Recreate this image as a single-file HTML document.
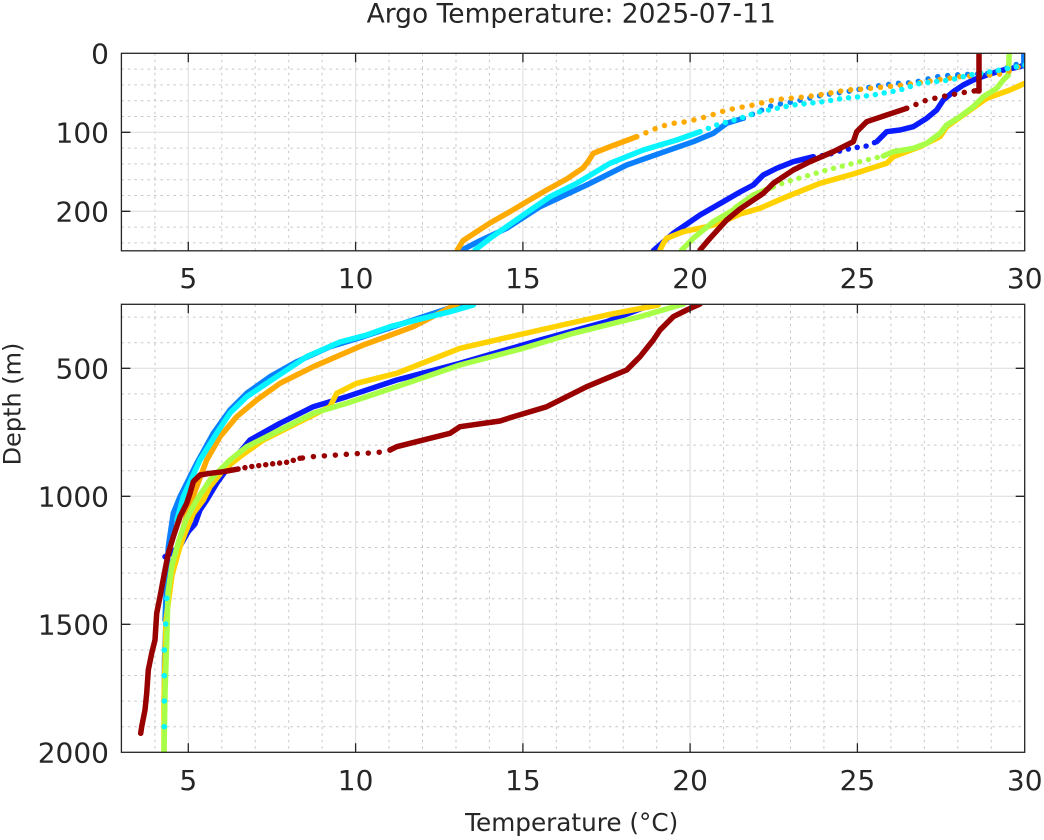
<!DOCTYPE html>
<html><head><meta charset="utf-8"><style>
html,body{margin:0;padding:0;background:#fff;}
svg{display:block;}
text{font-family:"DejaVu Sans","Liberation Sans",sans-serif;fill:#262626;}
</style></head><body>
<svg width="1044" height="840" viewBox="0 0 1044 840" xmlns="http://www.w3.org/2000/svg">
<defs>
<clipPath id="c1"><rect x="121.4" y="53.3" width="903.3" height="197.5"/></clipPath>
<clipPath id="c2"><rect x="121.4" y="304.3" width="903.3" height="448"/></clipPath>
</defs>
<rect x="0" y="0" width="1044" height="840" fill="#fff"/>

<!-- ===== TOP PANEL GRID ===== -->
<g stroke="#c6c6c6" stroke-width="1" stroke-dasharray="2.5 4" fill="none">
<path d="M154.9 53.3V250.8M221.8 53.3V250.8M255.2 53.3V250.8M288.7 53.3V250.8M322.1 53.3V250.8M389 53.3V250.8M422.5 53.3V250.8M456 53.3V250.8M489.4 53.3V250.8M556.3 53.3V250.8M589.8 53.3V250.8M623.2 53.3V250.8M656.7 53.3V250.8M723.6 53.3V250.8M757 53.3V250.8M790.5 53.3V250.8M823.9 53.3V250.8M890.9 53.3V250.8M924.3 53.3V250.8M957.8 53.3V250.8M991.2 53.3V250.8"/>
<path d="M121.4 69.1H1024.7M121.4 84.9H1024.7M121.4 100.7H1024.7M121.4 116.5H1024.7M121.4 148.1H1024.7M121.4 163.9H1024.7M121.4 179.7H1024.7M121.4 195.5H1024.7M121.4 227.1H1024.7M121.4 242.9H1024.7"/>
</g>
<g stroke="#dcdcdc" stroke-width="1" fill="none">
<path d="M188.3 53.3V250.8M355.6 53.3V250.8M522.9 53.3V250.8M690.1 53.3V250.8M857.4 53.3V250.8M121.4 132.3H1024.7M121.4 211.3H1024.7"/>
</g>

<!-- ===== TOP PANEL DATA ===== -->
<g clip-path="url(#c1)" fill="none" stroke-linecap="round" stroke-linejoin="round" stroke-width="5.5">
<!-- blue -->
<polyline stroke="#0a1cff" points="653.3,250.7 673.3,233.3 700,215 723.3,201.7 740,192 753.3,185 763.3,175 776.7,168.3 793.3,161.7 813.3,156.7"/>
<polyline stroke="#0a1cff" stroke-dasharray="0 9" points="813.3,156.7 826.7,155 843.3,150 855,147.7 866.7,146 876.7,141.7"/>
<polyline stroke="#0a1cff" points="876.7,141.7 886.7,131.7 900,130 913.3,126.7 926.7,118.3 936.7,110 943.3,100 953.3,91.7 963.3,85 973.3,80 986.7,75 1003.3,70 1020,66.7 1024,65 1024,52"/>
<!-- azure -->
<polyline stroke="#0a80ff" points="460.7,250.7 480,240.7 506.7,228.3 540,206.7 586.7,185 626.7,165 660,153.3 693.3,141.7 713.3,133.3 726.7,123.3 743.3,118.3"/>
<polyline stroke="#0a80ff" stroke-dasharray="0 10" points="743.3,118.3 773.3,105 793.3,101.7 823.3,95 846.7,91.7 876.7,86 896.7,83.3 913,82.7 936.7,76.7 953,75 990,73.3 1003,69.3 1024,61.7"/>
<polyline stroke="#0a80ff" points="1024,66 1024,52"/>
<!-- gold -->
<polyline stroke="#ffd200" points="660,250 663.3,243.3 666.7,238.3 683.3,231.7 706.7,226.7 720,223.3 740,214 760,208.3 786.7,196.7 820,183.3 853.3,174 886.7,163.3 893.3,156.7 920,146.7 940,136.7 946.7,126.7 963.3,115 986.7,98.3 1010,90 1030,81"/>
<!-- green -->
<polyline stroke="#a8ff48" points="681.7,250 693.3,238.3 713.3,221.7 733.3,210 736.7,206.7 753.3,195 773.3,186.7"/>
<polyline stroke="#a8ff48" stroke-dasharray="0 9" points="773.3,186.7 786.7,181.7 806.7,176 826.7,170 853.3,163.3 883.3,156"/>
<polyline stroke="#a8ff48" points="883.3,156 893.3,151.7 913.3,148.3 926.7,143.3 940,133.3 946.7,125 960,116.7 973.3,106.7 983.3,96.7 996.7,88.3 1003.3,80 1008.3,75 1009.3,52"/>
<!-- orange -->
<polyline stroke="#ffaa00" points="457.3,250 463,240.7 476.7,231.7 490,223 510,211.7 526.7,201.7 546.7,190 566.7,179 583,168 588,161.7 593.3,153.3 610,146.7 636.7,136.7"/>
<polyline stroke="#ffaa00" stroke-dasharray="0 10" points="636.7,136.7 660,126.7 673.3,123.3 686.7,121.7 706.7,116.7 726.7,110 753.3,105 773.3,100 790,98.3 806.7,96.7 823.3,94.3 846.7,90 860,89.3 880,87.3 903,85 920,82.7 936.7,80 960,76.7 986.7,75 996.7,75 1013,70 1030,60"/>
<!-- cyan -->
<polyline stroke="#08f4ff" points="475,250 490,238.3 523.3,215 550,196.7 576.7,183.3 610,163.3 643.3,150 676.7,140 700,131.7"/>
<polyline stroke="#08f4ff" stroke-dasharray="0 9" points="700,131.7 716.7,125 740,118.3 760,111.7 793.3,105 823.3,101.7 843.3,98.3 860,96.7 873,95 900,90 920,83.3 950,80 970,75 996.7,70.7 1030,64"/>
<!-- dark red -->
<polyline stroke="#990000" points="700,250 710,238.3 726.7,220 740,209 763.3,193.3 773.3,183.3 793.3,170 810,161.7 833.3,151.7 853.3,141.7 856.7,131.7 866.7,121.7 886.7,115 906.7,108.3"/>
<polyline stroke="#990000" stroke-dasharray="0 10" points="906.7,108.3 926.7,100 950,95 966.7,92 976,90.7"/>
<polyline stroke="#990000" points="976,90.7 979,91 979,52"/>
</g>

<!-- top panel box & ticks -->
<g stroke="#262626" stroke-width="1.3" fill="none">
<rect x="121.4" y="53.3" width="903.3" height="197.5"/>
<path d="M188.3 53.3v9M355.6 53.3v9M522.9 53.3v9M690.1 53.3v9M857.4 53.3v9M188.3 250.8v-9M355.6 250.8v-9M522.9 250.8v-9M690.1 250.8v-9M857.4 250.8v-9M121.4 132.3h9M121.4 211.3h9M1024.7 132.3h-9M1024.7 211.3h-9"/>
</g>
<g font-size="28" text-anchor="end">
<text x="109" y="63.5">0</text>
<text x="109" y="142.5">100</text>
<text x="109" y="221.5">200</text>
</g>
<g font-size="28" text-anchor="middle">
<text x="188.3" y="288">5</text>
<text x="355.6" y="288">10</text>
<text x="522.9" y="288">15</text>
<text x="690.1" y="288">20</text>
<text x="857.4" y="288">25</text>
<text x="1024.7" y="288">30</text>
</g>

<!-- ===== BOTTOM PANEL GRID ===== -->
<g stroke="#c6c6c6" stroke-width="1" stroke-dasharray="2.5 4" fill="none">
<path d="M154.9 304.3V752.3M221.8 304.3V752.3M255.2 304.3V752.3M288.7 304.3V752.3M322.1 304.3V752.3M389 304.3V752.3M422.5 304.3V752.3M456 304.3V752.3M489.4 304.3V752.3M556.3 304.3V752.3M589.8 304.3V752.3M623.2 304.3V752.3M656.7 304.3V752.3M723.6 304.3V752.3M757 304.3V752.3M790.5 304.3V752.3M823.9 304.3V752.3M890.9 304.3V752.3M924.3 304.3V752.3M957.8 304.3V752.3M991.2 304.3V752.3"/>
<path d="M121.4 317.1H1024.7M121.4 342.7H1024.7M121.4 393.9H1024.7M121.4 419.5H1024.7M121.4 445.1H1024.7M121.4 470.7H1024.7M121.4 521.9H1024.7M121.4 547.5H1024.7M121.4 573.1H1024.7M121.4 598.7H1024.7M121.4 649.9H1024.7M121.4 675.5H1024.7M121.4 701.1H1024.7M121.4 726.7H1024.7"/>
</g>
<g stroke="#dcdcdc" stroke-width="1" fill="none">
<path d="M188.3 304.3V752.3M355.6 304.3V752.3M522.9 304.3V752.3M690.1 304.3V752.3M857.4 304.3V752.3M121.4 368.3H1024.7M121.4 496.3H1024.7M121.4 624.3H1024.7"/>
</g>

<!-- ===== BOTTOM PANEL DATA ===== -->
<g clip-path="url(#c2)" fill="none" stroke-linecap="round" stroke-linejoin="round" stroke-width="5.5">
<!-- blue -->
<polyline stroke="#0a1cff" points="655,303.3 606.7,321.7 540,340 460,363.3 396.7,380 346.7,396.7 313.3,406.7 280,423.3 250,440 233.3,460 216.7,483.3 206.7,500 200,510 195,524 188,532 180,546 170,554 165,556.7"/>
<!-- azure -->
<polyline stroke="#0a80ff" points="461.7,304 413.3,320 363.3,336.7 330,346.7 296.7,361.7 270,376.7 246.7,393.3 230,410 213.3,433.3 196.7,463.3 180,496.7 173.3,513.3 168.3,546.7 166.7,580 165,620"/>
<polyline stroke="#0a80ff" stroke-width="1.5" points="167,580 164,620 162.5,660 162.3,700 162.5,745"/>
<!-- orange -->
<polyline stroke="#ffaa00" points="458.3,303.3 413.3,326.7 363.3,345 313.3,366.7 280,383.3 256.7,400 236.7,416.7 220,436.7 206.7,460 196.7,486.7 188,510 180,540 175,560"/>
<!-- gold -->
<polyline stroke="#ffd200" points="658.3,305 606.7,315 540,330 460,348.3 396.7,373.3 356.7,383.3 336.7,393.3 330,406.7 296.7,423.3 263.3,440 240,456.7 223.3,470 210,486.7 203.3,500 193.3,513.3 185,533.3 180,546.7 172,575 166,620 164,700 164,752"/>
<!-- green -->
<polyline stroke="#a8ff48" points="683.3,304 640,316.7 573.3,333.3 523.3,348.3 460,365 396.7,386.7 346.7,403.3 313.3,413.3 280,430 246.7,446.7 230,460 210,480 196.7,500 186,520 179,540 172,565 168,593 166.7,643.3 165,693.3 164,752.7"/>
<!-- cyan -->
<polyline stroke="#08f4ff" points="473.3,305 450,311.7 423.3,318.3 390,326.7 366.7,335 340,342 306.7,356.7 286.7,370 266.7,383.3 246.7,396.7 230,413 216.7,433.3 200,460 183.3,496.7 177,520"/>
<g fill="#08f4ff" stroke="none">
<circle cx="166.7" cy="598.3" r="2.8"/><circle cx="165.7" cy="624" r="2.8"/><circle cx="164.3" cy="650" r="2.8"/><circle cx="164.3" cy="675.7" r="2.8"/><circle cx="164.3" cy="701" r="2.8"/><circle cx="164.3" cy="726.7" r="2.8"/>
</g>
<!-- dark red -->
<polyline stroke="#990000" points="700,304 686.7,310 673.3,316.7 660,330 653.3,340 640,356.7 626.7,370 606.7,378.3 586.7,386.7 566.7,396.7 546.7,406.7 513.3,416.7 500,421 460,426.7 450,433.3 430,438.3 396.7,446.7 390,450"/>
<polyline stroke="#990000" stroke-dasharray="0 11" points="390,450 376.7,452.7 363.3,453.3 350,454 336.7,455 326.7,455.7 311.7,456.7 300,458.3"/>
<polyline stroke="#990000" stroke-dasharray="0 7" points="300,458.3 286.7,462.3 276.7,463.3 263.3,465 250,466.7 236.7,469.3"/>
<polyline stroke="#990000" points="236.7,469.3 223.3,471.7 210,473.3 200,475 193.3,481.7 190,493.3 186.7,503.3 180,516.7 173.3,536.7 168.3,553.3 165,570 160,596.7 156.7,613.3 155,640 151.7,653.3 148.3,670 146.7,693.3 145,710 141.7,726.7 140.7,733.3"/>
</g>

<!-- bottom panel box & ticks -->
<g stroke="#262626" stroke-width="1.3" fill="none">
<rect x="121.4" y="304.3" width="903.3" height="448"/>
<path d="M188.3 304.3v9M355.6 304.3v9M522.9 304.3v9M690.1 304.3v9M857.4 304.3v9M188.3 752.3v-9M355.6 752.3v-9M522.9 752.3v-9M690.1 752.3v-9M857.4 752.3v-9M121.4 368.3h9M121.4 496.3h9M121.4 624.3h9M1024.7 368.3h-9M1024.7 496.3h-9M1024.7 624.3h-9"/>
</g>
<g font-size="28" text-anchor="end">
<text x="109" y="378.5">500</text>
<text x="109" y="506.5">1000</text>
<text x="109" y="634.5">1500</text>
<text x="109" y="762.5">2000</text>
</g>
<g font-size="28" text-anchor="middle">
<text x="188.3" y="790">5</text>
<text x="355.6" y="790">10</text>
<text x="522.9" y="790">15</text>
<text x="690.1" y="790">20</text>
<text x="857.4" y="790">25</text>
<text x="1024.7" y="790">30</text>
</g>

<!-- titles -->
<text x="571.2" y="22.7" font-size="26.5" text-anchor="middle">Argo Temperature: 2025-07-11</text>
<text x="571.7" y="831" font-size="24.7" text-anchor="middle">Temperature (°C)</text>
<text transform="translate(20.5,404) rotate(-90)" font-size="24" text-anchor="middle">Depth (m)</text>
</svg>
</body></html>
